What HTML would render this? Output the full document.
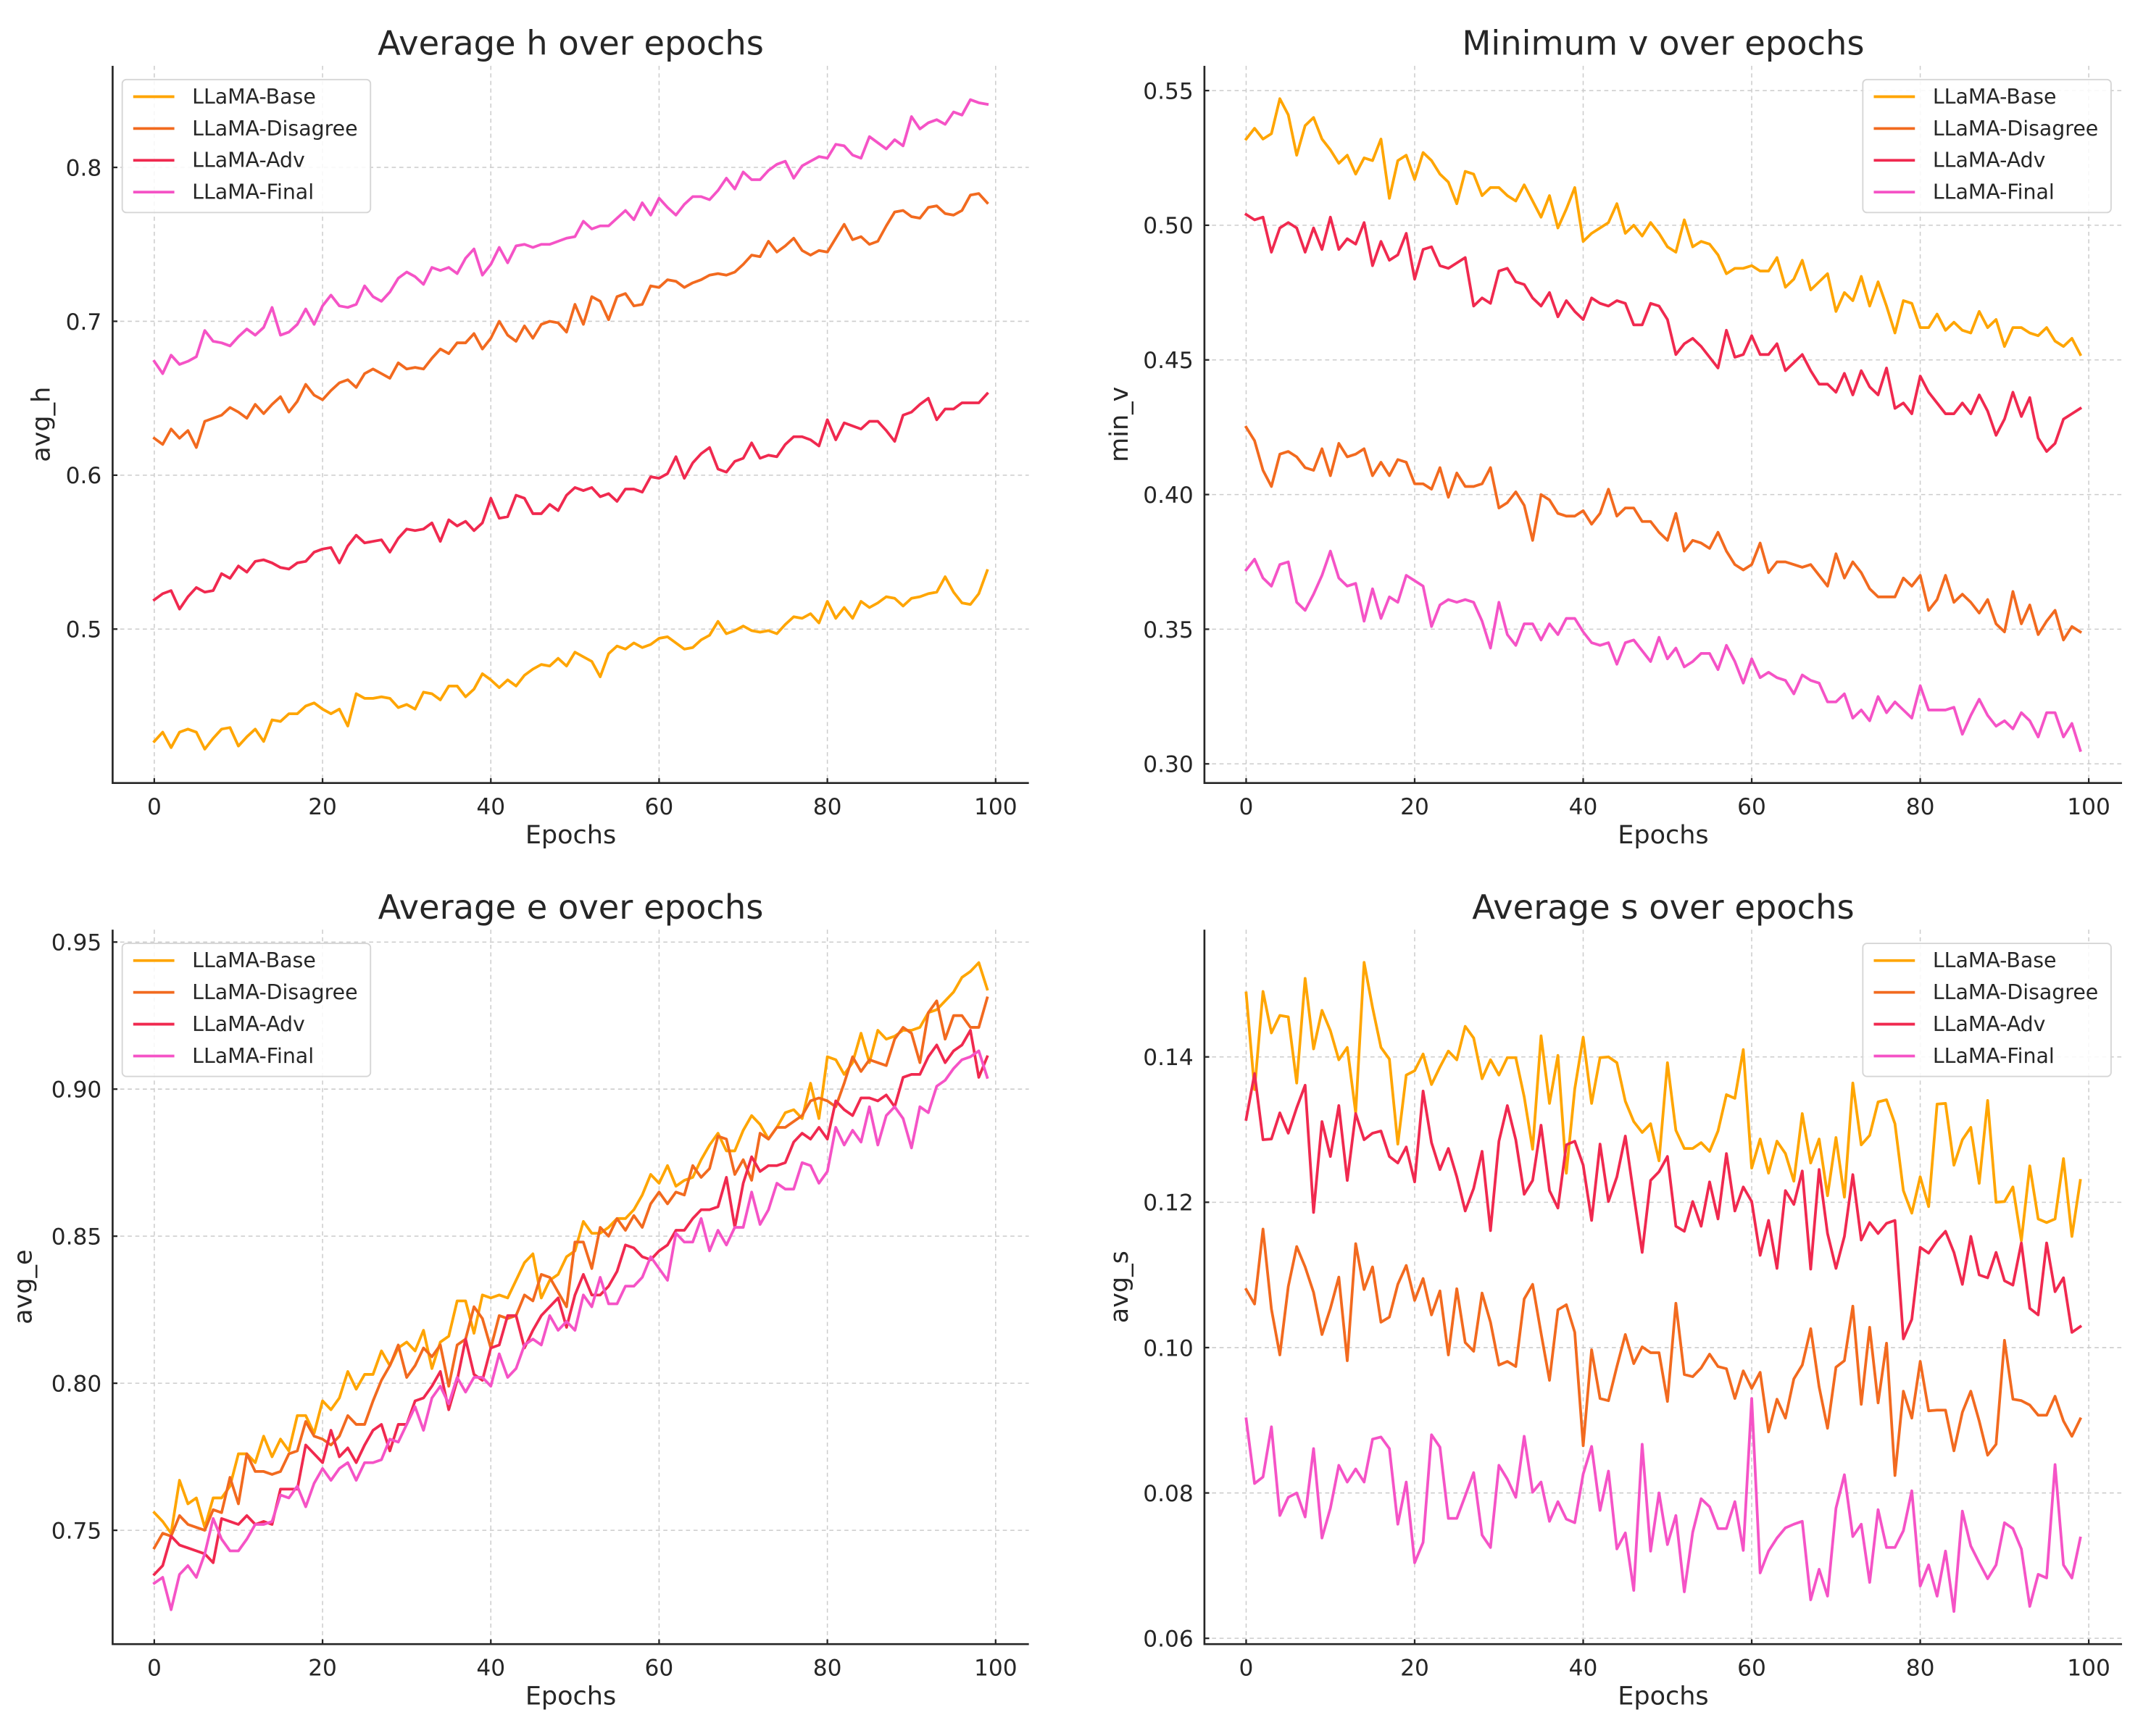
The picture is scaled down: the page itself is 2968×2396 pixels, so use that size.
<!DOCTYPE html>
<html><head><meta charset="utf-8"><style>
html,body{margin:0;padding:0;background:#fff;}
svg{display:block;font-family:"DejaVu Sans","Liberation Sans",sans-serif;}
</style></head>
<body>
<svg id="fig" width="2968" height="2396" viewBox="0 0 1568 1266" xmlns="http://www.w3.org/2000/svg"></svg>
<script>
const epochs = Array.from({length:100},(_,i)=>i);
const seriesNames = ["LLaMA-Base","LLaMA-Disagree","LLaMA-Adv","LLaMA-Final"];
const seriesColors = ["#FFA500","#F26A1F","#F0294F","#F553C6"];

const hBase=[0.427,0.433,0.423,0.433,0.435,0.433,0.422,0.429,0.435,0.436,0.424,0.430,0.435,0.427,0.441,0.440,0.445,0.445,0.450,0.452,0.448,0.445,0.448,0.437,0.458,0.455,0.455,0.456,0.455,0.449,0.451,0.448,0.459,0.458,0.454,0.463,0.463,0.456,0.461,0.471,0.467,0.462,0.467,0.463,0.470,0.474,0.477,0.476,0.481,0.476,0.485,0.482,0.479,0.469,0.484,0.489,0.487,0.491,0.488,0.490,0.494,0.495,0.491,0.487,0.488,0.493,0.496,0.505,0.497,0.499,0.502,0.499,0.498,0.499,0.497,0.503,0.508,0.507,0.510,0.504,0.518,0.507,0.514,0.507,0.518,0.514,0.517,0.521,0.520,0.515,0.520,0.521,0.523,0.524,0.534,0.524,0.517,0.516,0.523,0.538];
const hDisagree=[0.624,0.620,0.630,0.624,0.629,0.618,0.635,0.637,0.639,0.644,0.641,0.637,0.646,0.640,0.646,0.651,0.641,0.648,0.659,0.652,0.649,0.655,0.660,0.662,0.657,0.666,0.669,0.666,0.663,0.673,0.669,0.670,0.669,0.676,0.682,0.679,0.686,0.686,0.692,0.682,0.689,0.700,0.691,0.687,0.697,0.689,0.698,0.700,0.699,0.693,0.711,0.698,0.716,0.713,0.701,0.716,0.718,0.710,0.711,0.723,0.722,0.727,0.726,0.722,0.725,0.727,0.730,0.731,0.730,0.732,0.737,0.743,0.742,0.752,0.745,0.749,0.754,0.746,0.743,0.746,0.745,0.754,0.763,0.753,0.755,0.750,0.752,0.762,0.771,0.772,0.768,0.767,0.774,0.775,0.770,0.769,0.772,0.782,0.783,0.777];
const hAdv=[0.519,0.523,0.525,0.513,0.521,0.527,0.524,0.525,0.536,0.533,0.541,0.537,0.544,0.545,0.543,0.540,0.539,0.543,0.544,0.550,0.552,0.553,0.543,0.554,0.561,0.556,0.557,0.558,0.550,0.559,0.565,0.564,0.565,0.569,0.557,0.571,0.567,0.570,0.564,0.569,0.585,0.572,0.573,0.587,0.585,0.575,0.575,0.581,0.577,0.587,0.592,0.590,0.592,0.586,0.588,0.583,0.591,0.591,0.589,0.599,0.598,0.601,0.612,0.598,0.608,0.614,0.618,0.604,0.602,0.609,0.611,0.621,0.611,0.613,0.612,0.620,0.625,0.625,0.623,0.619,0.636,0.623,0.634,0.632,0.630,0.635,0.635,0.629,0.622,0.639,0.641,0.646,0.650,0.636,0.643,0.643,0.647,0.647,0.647,0.653];
const hFinal=[0.674,0.666,0.678,0.672,0.674,0.677,0.694,0.687,0.686,0.684,0.690,0.695,0.691,0.696,0.709,0.691,0.693,0.698,0.708,0.698,0.710,0.717,0.710,0.709,0.711,0.723,0.716,0.713,0.719,0.728,0.732,0.729,0.724,0.735,0.733,0.735,0.731,0.741,0.747,0.730,0.737,0.748,0.738,0.749,0.750,0.748,0.750,0.750,0.752,0.754,0.755,0.765,0.760,0.762,0.762,0.767,0.772,0.766,0.777,0.769,0.780,0.774,0.769,0.776,0.781,0.781,0.779,0.785,0.793,0.786,0.797,0.792,0.792,0.798,0.802,0.804,0.793,0.801,0.804,0.807,0.806,0.815,0.814,0.808,0.806,0.820,0.816,0.812,0.818,0.814,0.833,0.825,0.829,0.831,0.828,0.836,0.834,0.844,0.842,0.841];

const vBase=[0.532,0.536,0.532,0.534,0.547,0.541,0.526,0.537,0.540,0.532,0.528,0.523,0.526,0.519,0.525,0.524,0.532,0.510,0.524,0.526,0.517,0.527,0.524,0.519,0.516,0.508,0.520,0.519,0.511,0.514,0.514,0.511,0.509,0.515,0.509,0.503,0.511,0.499,0.506,0.514,0.494,0.497,0.499,0.501,0.508,0.497,0.500,0.496,0.501,0.497,0.492,0.490,0.502,0.492,0.494,0.493,0.489,0.482,0.484,0.484,0.485,0.483,0.483,0.488,0.477,0.480,0.487,0.476,0.479,0.482,0.468,0.475,0.472,0.481,0.470,0.479,0.470,0.460,0.472,0.471,0.462,0.462,0.467,0.461,0.464,0.461,0.460,0.468,0.462,0.465,0.455,0.462,0.462,0.460,0.459,0.462,0.457,0.455,0.458,0.452];
const vDisagree=[0.425,0.420,0.409,0.403,0.415,0.416,0.414,0.410,0.409,0.417,0.407,0.419,0.414,0.415,0.417,0.407,0.412,0.407,0.413,0.412,0.404,0.404,0.402,0.410,0.399,0.408,0.403,0.403,0.404,0.410,0.395,0.397,0.401,0.396,0.383,0.400,0.398,0.393,0.392,0.392,0.394,0.389,0.393,0.402,0.392,0.395,0.395,0.390,0.390,0.386,0.383,0.393,0.379,0.383,0.382,0.380,0.386,0.379,0.374,0.372,0.374,0.382,0.371,0.375,0.375,0.374,0.373,0.374,0.370,0.366,0.378,0.369,0.375,0.371,0.365,0.362,0.362,0.362,0.369,0.366,0.370,0.357,0.361,0.370,0.360,0.363,0.360,0.356,0.361,0.352,0.349,0.364,0.352,0.359,0.348,0.353,0.357,0.346,0.351,0.349];
const vAdv=[0.504,0.502,0.503,0.490,0.499,0.501,0.499,0.490,0.499,0.491,0.503,0.491,0.495,0.493,0.501,0.485,0.494,0.487,0.489,0.497,0.480,0.491,0.492,0.485,0.484,0.486,0.488,0.470,0.473,0.471,0.483,0.484,0.479,0.478,0.473,0.470,0.475,0.466,0.472,0.468,0.465,0.473,0.471,0.470,0.472,0.471,0.463,0.463,0.471,0.470,0.465,0.452,0.456,0.458,0.455,0.451,0.447,0.461,0.451,0.452,0.459,0.452,0.452,0.456,0.446,0.449,0.452,0.446,0.441,0.441,0.438,0.445,0.437,0.446,0.440,0.437,0.447,0.432,0.434,0.430,0.444,0.438,0.434,0.430,0.430,0.434,0.430,0.437,0.431,0.422,0.428,0.438,0.429,0.436,0.421,0.416,0.419,0.428,0.430,0.432];
const vFinal=[0.372,0.376,0.369,0.366,0.374,0.375,0.360,0.357,0.363,0.370,0.379,0.369,0.366,0.367,0.353,0.365,0.354,0.362,0.360,0.370,0.368,0.366,0.351,0.359,0.361,0.360,0.361,0.360,0.353,0.343,0.360,0.348,0.344,0.352,0.352,0.346,0.352,0.348,0.354,0.354,0.349,0.345,0.344,0.345,0.337,0.345,0.346,0.342,0.338,0.347,0.339,0.343,0.336,0.338,0.341,0.341,0.335,0.344,0.338,0.330,0.339,0.332,0.334,0.332,0.331,0.326,0.333,0.331,0.330,0.323,0.323,0.326,0.317,0.320,0.316,0.325,0.319,0.323,0.320,0.317,0.329,0.320,0.320,0.320,0.321,0.311,0.318,0.324,0.318,0.314,0.316,0.313,0.319,0.316,0.310,0.319,0.319,0.310,0.315,0.305];

const eBase=[0.756,0.753,0.749,0.767,0.759,0.761,0.751,0.761,0.761,0.765,0.776,0.776,0.773,0.782,0.775,0.781,0.777,0.789,0.789,0.783,0.794,0.791,0.795,0.804,0.798,0.803,0.803,0.811,0.806,0.812,0.814,0.811,0.818,0.805,0.814,0.816,0.828,0.828,0.817,0.830,0.829,0.830,0.829,0.835,0.841,0.844,0.829,0.835,0.837,0.843,0.845,0.855,0.851,0.851,0.853,0.856,0.856,0.859,0.864,0.871,0.868,0.874,0.867,0.869,0.870,0.876,0.881,0.885,0.879,0.879,0.886,0.891,0.888,0.883,0.887,0.892,0.893,0.890,0.902,0.890,0.911,0.910,0.905,0.909,0.919,0.909,0.920,0.917,0.918,0.920,0.920,0.921,0.926,0.927,0.930,0.933,0.938,0.940,0.943,0.934];
const eDisagree=[0.744,0.749,0.748,0.755,0.752,0.751,0.750,0.757,0.756,0.768,0.759,0.776,0.770,0.770,0.769,0.770,0.776,0.777,0.787,0.782,0.781,0.779,0.782,0.789,0.786,0.786,0.794,0.801,0.806,0.813,0.802,0.806,0.812,0.809,0.813,0.799,0.813,0.815,0.826,0.822,0.812,0.823,0.822,0.823,0.830,0.828,0.837,0.836,0.831,0.826,0.848,0.848,0.839,0.853,0.850,0.856,0.852,0.857,0.853,0.861,0.865,0.861,0.865,0.864,0.874,0.870,0.873,0.884,0.883,0.871,0.876,0.869,0.885,0.883,0.887,0.887,0.889,0.891,0.896,0.897,0.896,0.894,0.902,0.911,0.906,0.910,0.909,0.908,0.917,0.921,0.919,0.909,0.926,0.930,0.917,0.925,0.925,0.921,0.921,0.931];
const eAdv=[0.735,0.738,0.748,0.745,0.744,0.743,0.742,0.739,0.754,0.753,0.752,0.755,0.752,0.753,0.752,0.764,0.764,0.764,0.779,0.776,0.773,0.784,0.775,0.778,0.773,0.779,0.784,0.786,0.777,0.786,0.786,0.794,0.795,0.799,0.804,0.791,0.801,0.815,0.803,0.801,0.812,0.813,0.823,0.823,0.812,0.818,0.823,0.826,0.829,0.819,0.830,0.837,0.830,0.830,0.833,0.838,0.847,0.846,0.843,0.842,0.845,0.847,0.852,0.852,0.856,0.859,0.859,0.860,0.870,0.853,0.868,0.877,0.872,0.874,0.874,0.875,0.882,0.885,0.883,0.887,0.883,0.896,0.893,0.891,0.897,0.897,0.896,0.898,0.894,0.904,0.905,0.905,0.911,0.915,0.909,0.913,0.915,0.920,0.904,0.911];
const eFinal=[0.732,0.734,0.723,0.735,0.738,0.734,0.742,0.754,0.747,0.743,0.743,0.747,0.752,0.752,0.753,0.762,0.761,0.765,0.758,0.766,0.771,0.767,0.771,0.773,0.767,0.773,0.773,0.774,0.781,0.780,0.786,0.792,0.784,0.795,0.799,0.793,0.802,0.797,0.802,0.802,0.799,0.810,0.802,0.805,0.813,0.815,0.813,0.823,0.818,0.821,0.818,0.830,0.826,0.836,0.827,0.827,0.833,0.833,0.836,0.843,0.839,0.835,0.851,0.848,0.848,0.856,0.845,0.852,0.847,0.853,0.853,0.865,0.854,0.859,0.868,0.866,0.866,0.875,0.874,0.868,0.872,0.887,0.881,0.886,0.882,0.894,0.881,0.891,0.894,0.890,0.880,0.894,0.892,0.901,0.903,0.907,0.910,0.911,0.913,0.904];

const sBase=[0.1488,0.1355,0.149,0.1433,0.1457,0.1455,0.1364,0.1508,0.1411,0.1464,0.1436,0.1396,0.1413,0.1323,0.153,0.1468,0.1413,0.1397,0.128,0.1375,0.1381,0.1404,0.1362,0.1386,0.1408,0.1396,0.1442,0.1426,0.137,0.1396,0.1375,0.1399,0.1399,0.1345,0.1273,0.1429,0.1336,0.1402,0.124,0.1356,0.1427,0.1336,0.1399,0.14,0.1392,0.1339,0.1311,0.1296,0.1308,0.1257,0.1392,0.1299,0.1274,0.1274,0.1282,0.127,0.1298,0.1348,0.1343,0.141,0.1247,0.1287,0.124,0.1284,0.1267,0.1229,0.1322,0.1254,0.1287,0.1209,0.1289,0.1207,0.1364,0.1279,0.1292,0.1338,0.1341,0.1308,0.1216,0.1185,0.1235,0.1194,0.1335,0.1336,0.1251,0.1286,0.1303,0.1226,0.134,0.12,0.1201,0.1221,0.1147,0.125,0.1177,0.1172,0.1177,0.126,0.1153,0.123];
const sDisagree=[0.108,0.106,0.1163,0.1053,0.099,0.1084,0.1139,0.1111,0.1076,0.1018,0.1054,0.1097,0.0982,0.1143,0.108,0.1111,0.1035,0.1042,0.1087,0.1113,0.1065,0.1095,0.1045,0.1078,0.099,0.1081,0.1007,0.0995,0.1075,0.1035,0.0976,0.0981,0.0974,0.1067,0.1087,0.102,0.0955,0.1052,0.1059,0.1021,0.0865,0.0997,0.093,0.0927,0.0974,0.1018,0.0978,0.1001,0.0993,0.0993,0.0926,0.1061,0.0963,0.096,0.0972,0.0991,0.0974,0.0971,0.093,0.0968,0.0944,0.0966,0.0884,0.0929,0.0903,0.0957,0.0976,0.1026,0.0946,0.0889,0.0973,0.0982,0.1057,0.0922,0.1028,0.0924,0.1006,0.0824,0.094,0.0903,0.0981,0.0913,0.0914,0.0914,0.0858,0.0911,0.094,0.0899,0.0852,0.0867,0.101,0.0929,0.0927,0.0921,0.0907,0.0907,0.0933,0.0899,0.0878,0.0902];
const sAdv=[0.1314,0.1377,0.1286,0.1287,0.1323,0.1295,0.133,0.1361,0.1186,0.1311,0.1263,0.1333,0.123,0.1322,0.1286,0.1295,0.1298,0.1263,0.1254,0.1276,0.1228,0.1353,0.1282,0.1245,0.1274,0.1235,0.1188,0.1219,0.127,0.1161,0.1284,0.1333,0.1286,0.1211,0.123,0.1306,0.1216,0.1192,0.1279,0.1284,0.1251,0.1175,0.128,0.1201,0.1235,0.1291,0.121,0.1131,0.123,0.1242,0.1263,0.1167,0.116,0.1201,0.1167,0.1228,0.1177,0.1267,0.1188,0.1221,0.1201,0.1127,0.1175,0.1109,0.1216,0.1197,0.1243,0.1108,0.1245,0.1157,0.1109,0.1153,0.1238,0.1148,0.1172,0.1157,0.1171,0.1175,0.1012,0.1039,0.1138,0.113,0.1147,0.116,0.1131,0.1087,0.1153,0.11,0.1096,0.1131,0.1092,0.1086,0.1144,0.1054,0.1045,0.1144,0.1077,0.1096,0.1021,0.1029];
const sFinal=[0.0902,0.0813,0.0822,0.0891,0.0769,0.0794,0.08,0.0767,0.0861,0.0738,0.0779,0.0838,0.0815,0.0833,0.0815,0.0874,0.0877,0.0861,0.0757,0.0815,0.0704,0.0732,0.088,0.0863,0.0765,0.0765,0.0796,0.0828,0.0742,0.0725,0.0838,0.0819,0.0794,0.0878,0.0801,0.0815,0.0761,0.0788,0.0764,0.0759,0.0826,0.0864,0.0776,0.083,0.0723,0.0745,0.0666,0.0867,0.072,0.08,0.0729,0.0769,0.0664,0.0746,0.0792,0.0781,0.0751,0.0751,0.0788,0.0721,0.093,0.069,0.072,0.0738,0.0752,0.0757,0.0761,0.0653,0.0695,0.0658,0.0779,0.0825,0.074,0.0757,0.0677,0.0777,0.0725,0.0725,0.0748,0.0803,0.0672,0.0701,0.0658,0.072,0.0637,0.0775,0.0727,0.0704,0.0682,0.0701,0.0759,0.0751,0.0723,0.0644,0.0688,0.0683,0.0839,0.0701,0.0683,0.0738];

const xTicks=[0,20,40,60,80,100];
const hTicks=[0.5,0.6,0.7,0.8], hTickLabels=["0.5","0.6","0.7","0.8"];
const vTicks=[0.30,0.35,0.40,0.45,0.50,0.55], vTickLabels=["0.30","0.35","0.40","0.45","0.50","0.55"];
const eTicks=[0.75,0.80,0.85,0.90,0.95], eTickLabels=["0.75","0.80","0.85","0.90","0.95"];
const sTicks=[0.06,0.08,0.10,0.12,0.14], sTickLabels=["0.06","0.08","0.10","0.12","0.14"];

const NS="http://www.w3.org/2000/svg";
const fig=document.getElementById('fig');
function mk(tag,attrs,parent){const e=document.createElementNS(NS,tag);for(const k in attrs)e.setAttribute(k,attrs[k]);(parent||fig).appendChild(e);return e;}

const panels=[
 {key:"h",title:"Average h over epochs",ylabel:"avg_h",L:82,R:750,T:48,B:571,ymin:0.400,ymax:0.866,ticks:hTicks,labels:hTickLabels,data:[hBase,hDisagree,hAdv,hFinal],legX:89,legY:58,ylabX:36},
 {key:"v",title:"Minimum v over epochs",ylabel:"min_v",L:878,R:1547,T:48,B:571,ymin:0.2929,ymax:0.5592,ticks:vTicks,labels:vTickLabels,data:[vBase,vDisagree,vAdv,vFinal],legX:1358,legY:58,ylabX:822},
 {key:"e",title:"Average e over epochs",ylabel:"avg_e",L:82,R:750,T:678,B:1199,ymin:0.7113,ymax:0.9542,ticks:eTicks,labels:eTickLabels,data:[eBase,eDisagree,eAdv,eFinal],legX:89,legY:688,ylabX:23},
 {key:"s",title:"Average s over epochs",ylabel:"avg_s",L:878,R:1547,T:678,B:1199,ymin:0.0592,ymax:0.1575,ticks:sTicks,labels:sTickLabels,data:[sBase,sDisagree,sAdv,sFinal],legX:1358,legY:688,ylabX:822}
];

panels.forEach(p=>{
  const g=mk('g',{});
  
  
  const xmin=-4.95,xmax=103.95;
  const xs=v=>p.L+(v-xmin)/(xmax-xmin)*(p.R-p.L);
  const ys=v=>p.B-(v-p.ymin)/(p.ymax-p.ymin)*(p.B-p.T);
  xTicks.forEach(t=>{const l=mk('line',{x1:xs(t),x2:xs(t),y1:p.T,y2:p.B,stroke:"#cccccc","stroke-width":0.8,"stroke-dasharray":"3,2.5"},g);
    
    });
  p.ticks.forEach(t=>{const l=mk('line',{x1:p.L,x2:p.R,y1:ys(t),y2:ys(t),stroke:"#cccccc","stroke-width":0.8,"stroke-dasharray":"3,2.5"},g);
    
    });
  p.data.forEach((arr,si)=>{
    const d=arr.map((v,i)=>(i?'L':'M')+xs(epochs[i]).toFixed(2)+' '+ys(v).toFixed(2)).join(' ');
    const path=mk('path',{d:d,fill:"none",stroke:seriesColors[si],"stroke-width":2,"stroke-linejoin":"round","stroke-linecap":"square"},g);
    
    
  });
  const sp=mk('path',{d:`M${p.L} ${p.T} L${p.L} ${p.B} L${p.R} ${p.B}`,fill:"none",stroke:"#262626","stroke-width":1.4},g);
  
  
  xTicks.forEach(t=>{
    mk('line',{x1:xs(t),x2:xs(t),y1:p.B,y2:p.B-3.5,stroke:"#262626","stroke-width":1.2},g);
    const tx=mk('text',{x:xs(t),y:p.B+23,"text-anchor":"middle","font-size":16.5,fill:"#262626"},g);
    tx.textContent=t;
    
    
  });
  p.ticks.forEach((t,i)=>{
    mk('line',{x1:p.L,x2:p.L+3.5,y1:ys(t),y2:ys(t),stroke:"#262626","stroke-width":1.2},g);
    const tx=mk('text',{x:p.L-8,y:ys(t)+6,"text-anchor":"end","font-size":16.5,fill:"#262626"},g);
    tx.textContent=p.labels[i];
    
    
  });
  const title=mk('text',{x:(p.L+p.R)/2,y:p.T-8,"text-anchor":"middle","font-size":24.5,fill:"#262626"},g);
  title.textContent=p.title;
  
  
  const xl=mk('text',{x:(p.L+p.R)/2,y:p.B+44,"text-anchor":"middle","font-size":18.5,fill:"#262626"},g);
  xl.textContent="Epochs";
  
  
  const cy=(p.T+p.B)/2;
  const yl=mk('text',{x:p.ylabX,y:cy,"text-anchor":"middle","font-size":18.5,fill:"#262626",transform:`rotate(-90 ${p.ylabX} ${cy})`},g);
  yl.textContent=p.ylabel;
  
  
  const lg=mk('g',{},g);
  
  
  mk('rect',{x:p.legX,y:p.legY,width:181,height:97,rx:3,fill:"#ffffff","fill-opacity":0.85,stroke:"#d6d6d6","stroke-width":1},lg);
  seriesNames.forEach((n,si)=>{
    const ey=p.legY+12.5+si*23.2;
    const e=mk('g',{},lg);
    
    
    mk('line',{x1:p.legX+8,x2:p.legX+38,y1:ey,y2:ey,stroke:seriesColors[si],"stroke-width":2},e);
    const t=mk('text',{x:p.legX+51,y:ey+5,"font-size":15,fill:"#262626"},e);
    t.textContent=n;
  });
});
</script>
</body></html>
